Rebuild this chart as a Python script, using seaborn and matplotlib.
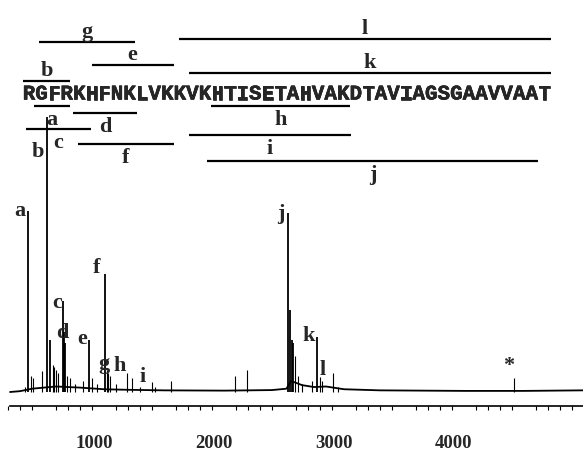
import matplotlib.pyplot as plt
import matplotlib.ticker as mticker
import matplotlib.transforms as mtransforms
import matplotlib.patheffects as pe
import pandas as pd
import seaborn as sns

# peptide and the fragments drawn over / under it (residue index, end exclusive)
sequence = "RGFRKHFNKLVKKVKHTISETAHVAKDTAVIAGSGAAVVAAT"
frag_names = ['b', 'g', 'e', 'l', 'k', 'a', 'd', 'c', 'f', 'h', 'i', 'j']
frag_start = [0, 1.3, 5.5, 12.4, 13.2, 0.9, 4.0, 0.3, 4.4, 15.0, 13.2, 14.7]
frag_end = [3.8, 8.9, 12.0, 42.0, 42.0, 3.8, 9.1, 5.4, 12.0, 26.0, 26.1, 41.0]

# spectrum peaks (m/z, relative intensity)
peak_mz = [340, 369, 392, 410, 481, 527, 550, 572, 586, 597, 617, 661, 669, 673,
           689, 720, 760, 825, 878, 897, 940, 1008, 1022, 1035, 1050, 1100, 1194,
           1231, 1300, 1397, 1425, 1558, 2094, 2194, 2536, 2550, 2564, 2578, 2592,
           2619, 2650, 2731, 2772, 2800, 2815, 2906, 2950, 4419]
peak_int = [2, 66, 6, 5, 7.5, 100, 19, 10, 9, 8, 7, 33, 22, 18,
            6, 5, 3, 4, 19, 5, 3, 43, 8, 7, 6, 3, 7,
            5, 2, 3.5, 2, 4, 6, 8, 65, 30, 19, 18, 13,
            6, 3, 4, 20, 5.5, 4, 7, 2, 5]

# baseline of the trace
base_mz = [217, 300, 400, 600, 800, 1000, 1200, 1500, 2000, 2400, 2520, 2560,
           2650, 2750, 2850, 3000, 3300, 4000, 4500, 4992]
base_int = [0, 0.3, 1.2, 2.0, 1.6, 1.0, 0.8, 0.6, 0.5, 0.7, 1.2, 4.0,
            2.5, 1.8, 2.0, 1.0, 0.6, 0.4, 0.4, 0.6]

# labelled peaks
label_names = ['a', 'b', 'c', 'd', 'e', 'f', 'g', 'h', 'i', 'j', 'k', 'l', '*']
label_peak = [369, 527, 661, 669, 878, 1008, 1022, 1194, 1397, 2536, 2772, 2906, 4419]

# layout: line rows (pixels from top) and label offsets (pixels)
frag_row = [82, 43, 66, 40, 74, 107, 114, 130, 145, 107, 136, 162]
frag_above = [True, True, True, True, True, False, False, False, False, False, False, False]
label_offset = [(-8, 0), (-9, -34), (-6, -1), (-2, -1), (-7, 2), (-8, 7), (-3, 7),
                (-8, 8), (-9, 6), (-7, 0), (-8, 2), (-10, 4), (-6, 13)]

sns.set_theme(style='white')
plt.rcParams['font.family'] = ['Liberation Serif', 'DejaVu Serif']

W, H = 583, 452
fig = plt.figure(figsize=(W / 100, H / 100), dpi=100)

# spectrum
ax = fig.add_axes([0, 45 / H, 1, 307 / H])
peaks = pd.DataFrame({'mz': peak_mz, 'intensity': peak_int})
base = pd.DataFrame({'mz': base_mz, 'intensity': base_int})
big = peaks['intensity'] >= 15
ax.vlines(peaks.mz[big], 0, peaks.intensity[big], color='black', lw=1.3)
ax.vlines(peaks.mz[~big], 0, peaks.intensity[~big], color='black', lw=0.8)
sns.lineplot(data=base, x='mz', y='intensity', ax=ax, color='black', lw=1.3)

lookup = dict(zip(peak_mz, peak_int))
for name, mz, off in zip(label_names, label_peak, label_offset):
    ax.annotate(name, (mz, lookup[mz]), xytext=off, textcoords='offset pixels',
                ha='center', va='center', fontsize=16, fontweight='bold')

px = 0.12  # pixels per m/z unit
ax.set_xlim(1000 - 104 / px, 1000 + (W - 104) / px)
ax.set_ylim(-14 / 2.75, 293 / 2.75)
for s in ['top', 'left', 'right']:
    ax.spines[s].set_visible(False)
ax.spines['bottom'].set_bounds(215, 1000 + (W - 104) / px)
ax.spines['bottom'].set_linewidth(1.2)
ax.spines['bottom'].set_color('black')
ax.set_yticks([])
ax.set_xlabel('')
ax.set_ylabel('')
ax.xaxis.set_major_locator(mticker.MultipleLocator(500))
ax.xaxis.set_minor_locator(mticker.MultipleLocator(100))
ax.xaxis.set_major_formatter(mticker.FuncFormatter(
    lambda v, p: f'{int(v)}' if v % 1000 == 0 and 1000 <= v <= 4000 else ''))
ax.tick_params(axis='x', which='major', direction='out', length=6, width=1,
               color='black', pad=14, labelsize=13.5)
ax.tick_params(axis='x', which='minor', direction='out', length=3, width=0.8,
               color='black', bottom=True)
shift = mtransforms.ScaledTranslation(-10 / 100, 0, fig.dpi_scale_trans)
for lab in ax.get_xticklabels():
    lab.set_transform(lab.get_transform() + shift)
    lab.set_fontweight('bold')

# sequence and fragment lines (x = residue index, y = pixels from top)
top = fig.add_axes([0, 0, 1, 1])
top.patch.set_alpha(0)
top.axis('off')
cw = 12.57
top.set_xlim(-22.7 / cw, (W - 22.7) / cw)
top.set_ylim(H, 0)
thick = [pe.withStroke(linewidth=0.4, foreground='black')]
for i, ch in enumerate(sequence):
    top.text(i + 0.5, 100.5, ch, ha='center', va='baseline', fontsize=15,
             fontweight='bold', family=['Liberation Mono', 'DejaVu Sans Mono'],
             path_effects=thick)
for name, a, b, y, up in zip(frag_names, frag_start, frag_end, frag_row, frag_above):
    top.hlines(y, a, b, color='black', lw=1.6)
    top.text((a + b) / 2, y - 6 if up else y + 18, name, ha='center', va='baseline',
             fontsize=16, fontweight='bold')

fig.savefig('out.png', dpi=100)
